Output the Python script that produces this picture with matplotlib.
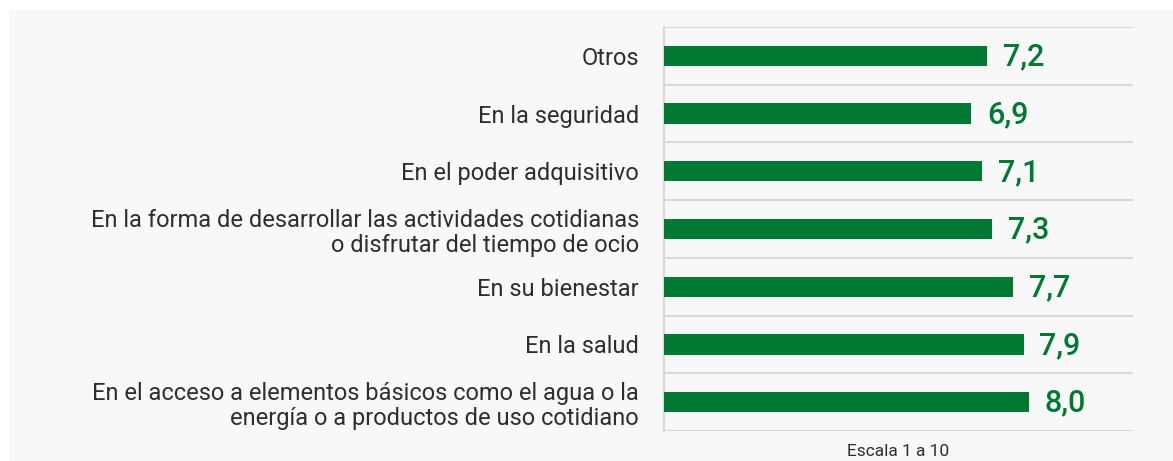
import matplotlib.pyplot as plt
from matplotlib.patches import Rectangle

plt.rcParams['font.family'] = ['Roboto', 'DejaVu Sans']

# Data (top to bottom as shown)
categories = [
    "Otros",
    "En la seguridad",
    "En el poder adquisitivo",
    "En la forma de desarrollar las actividades cotidianas\no disfrutar del tiempo de ocio",
    "En su bienestar",
    "En la salud",
    "En el acceso a elementos básicos como el agua o la\nenergía o a productos de uso cotidiano",
]
values = [7.2, 6.9, 7.1, 7.3, 7.7, 7.9, 8.0]
value_labels = ["7,2", "6,9", "7,1", "7,3", "7,7", "7,9", "8,0"]

GREEN = "#007a33"
TEXT = "#2e2e2e"
GRID = "#d9d9d9"
PANEL = "#f8f8f8"

fig = plt.figure(figsize=(11.73, 4.61), dpi=100)
fig.patch.set_facecolor("white")
# light grey panel behind everything
fig.patches.append(Rectangle((9 / 1173, 0), 1, 1 - 10 / 461, transform=fig.transFigure,
                             facecolor=PANEL, edgecolor="none", zorder=-10))

ax = fig.add_axes([664 / 1173, 1 - 431 / 461, (1133 - 664) / 1173, (431 - 27) / 461])
ax.set_facecolor(PANEL)

n = len(categories)
ypos = list(range(n))
left = 1
ax.barh(ypos, [v - left for v in values], left=left, height=0.35, color=GREEN, zorder=3)

for y, v, lab in zip(ypos, values, value_labels):
    ax.text(v + 0.3, y + 0.02, lab, va="center", ha="left", fontsize=22,
            fontweight="medium", color=GREEN)

ax.set_xlim(1, 10)
ax.set_ylim(n - 0.5, -0.5)
ax.set_yticks(ypos)
ax.set_yticklabels(categories, fontsize=17, color=TEXT, linespacing=1.15)
ax.tick_params(axis="y", length=0, pad=18)
ax.set_xticks([])

# horizontal separators between categories
for b in [i - 0.5 for i in range(n + 1)]:
    ax.axhline(b, color=GRID, lw=1.5, zorder=1)

for s in ["top", "right", "bottom"]:
    ax.spines[s].set_visible(False)
ax.spines["left"].set_color(GRID)
ax.spines["left"].set_linewidth(1.5)

ax.set_xlabel("Escala 1 a 10", fontsize=12.5, color=TEXT, labelpad=9)

fig.savefig("out.png", dpi=100, facecolor=fig.get_facecolor())
